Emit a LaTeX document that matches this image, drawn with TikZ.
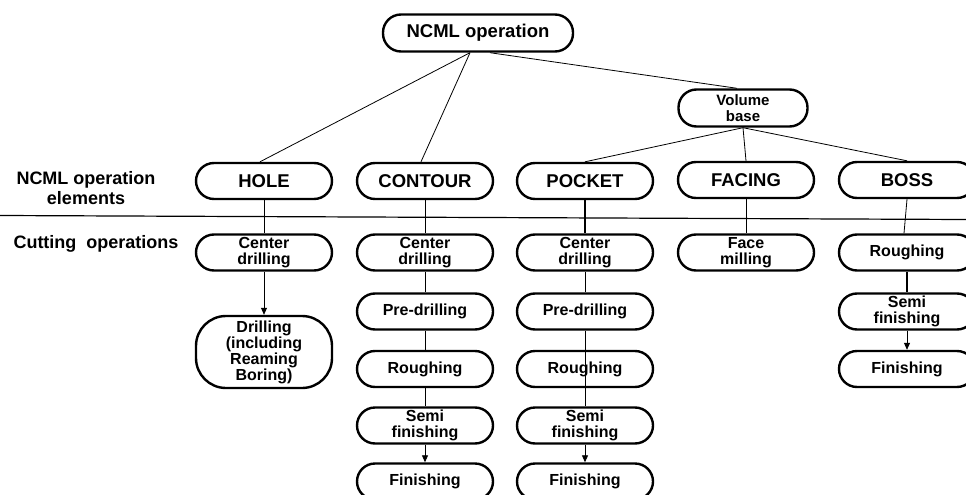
\documentclass[tikz,border=0pt]{standalone}
\usepackage{fontspec}
\setmainfont{Liberation Sans}
\usetikzlibrary{arrows.meta}

\begin{document}
\begin{tikzpicture}[x=1pt,y=-1pt,
  opbox/.style={draw,line width=2.4pt,rounded corners=18pt,minimum width=136pt,minimum height=36pt,inner sep=0pt,align=center,font=\bfseries\fontsize{18.5}{20}\selectfont},
  cutbox/.style={opbox,font=\bfseries\fontsize{16}{16}\selectfont},
  link/.style={line width=0.8pt},
  thicklink/.style={line width=1.8pt},
  flow/.style={line width=0.8pt,-{Triangle[length=7pt,width=6pt]}},
  rowlabel/.style={align=center,inner sep=0pt,font=\bfseries\fontsize{18}{20}\selectfont}]
\useasboundingbox (0,0) rectangle (966,495);
\node[opbox,minimum width=190pt,minimum height=37pt] (ncml) at (478,33) {NCML operation};
\node[opbox,minimum width=129pt,minimum height=37pt,font=\bfseries\fontsize{15}{16}\selectfont] (volume) at (743,108) {Volume\\base};
\node[opbox] (hole) at (264,181) {HOLE};
\node[opbox] (contour) at (425,181) {CONTOUR};
\node[opbox] (pocket) at (585,181) {POCKET};
\node[opbox] (facing) at (746,180) {FACING};
\node[opbox] (boss) at (907,180) {BOSS};
\node[rowlabel] (elemlabel) at (86,188) {NCML operation\\elements};
\node[rowlabel,anchor=base] (cutlabel) at (96,248) {Cutting\ \ operations};
\draw[line width=1.2pt] (0,215.5) -- (966,219.5);
\node[cutbox] (hcenter) at (264,252.5) {Center\\drilling};
\node[cutbox,minimum height=72pt,rounded corners=30pt] (hdrill) at (264,352) {Drilling\\(including\\Reaming\\Boring)};
\node[cutbox] (ccenter) at (425,252.5) {Center\\drilling};
\node[cutbox] (cpre) at (425,311.5) {Pre-drilling};
\node[cutbox] (crough) at (425,369) {Roughing};
\node[cutbox] (csemi) at (425,425.5) {Semi\\finishing};
\node[cutbox] (cfinish) at (425,481.5) {Finishing};
\node[cutbox] (pcenter) at (585,252.5) {Center\\drilling};
\node[cutbox] (ppre) at (585,311.5) {Pre-drilling};
\node[cutbox] (prough) at (585,369) {Roughing};
\node[cutbox] (psemi) at (585,425.5) {Semi\\finishing};
\node[cutbox] (pfinish) at (585,481.5) {Finishing};
\node[cutbox] (fmill) at (746,252.5) {Face\\milling};
\node[cutbox] (brough) at (907,252.5) {Roughing};
\node[cutbox] (bsemi) at (907,311.5) {Semi\\finishing};
\node[cutbox] (bfinish) at (907,369) {Finishing};
\coordinate (ncmlleft) at ([xshift=-8pt]ncml.south);
\coordinate (ncmlright) at ([xshift=12pt]ncml.south);
\draw[link] (ncmlleft) -- ([xshift=-4pt]hole.north);
\draw[link] (ncmlleft) -- ([xshift=-4pt]contour.north);
\draw[link] (ncmlright) -- ([xshift=-6pt]volume.north);
\draw[link] (volume.south) -- (pocket.north);
\draw[link] (volume.south) -- (facing.north);
\draw[link] (volume.south) -- (boss.north);
\draw[link] (hole) -- (hcenter);
\draw[link] (contour) -- (ccenter);
\draw[thicklink] (pocket) -- (pcenter);
\draw[link] (facing.south) -- (fmill.north);
\draw[link] (boss.south) -- ([xshift=-3pt]brough.north);
\draw[flow] (hcenter) -- (hdrill);
\draw[link] (ccenter) -- (cpre);
\draw[link] (cpre) -- (crough);
\draw[link] (crough) -- (csemi);
\draw[flow] (csemi) -- (cfinish);
\draw[link] (pcenter) -- (ppre);
\draw[link] (ppre.south) -- (psemi.north);
\draw[flow] (psemi) -- (pfinish);
\draw[thicklink] (brough) -- (bsemi);
\draw[flow] (bsemi) -- (bfinish);
\end{tikzpicture}
\end{document}
